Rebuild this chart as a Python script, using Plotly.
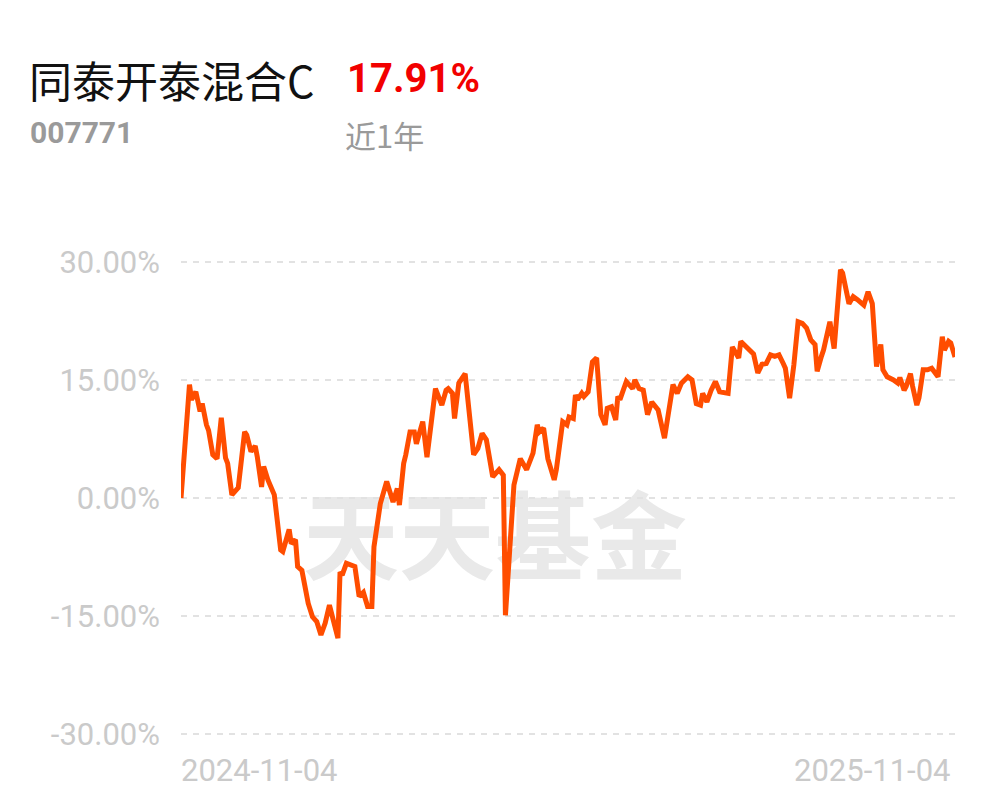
import pandas as pd
import plotly.graph_objects as go

# ---- data ----
start_date = "2024-11-04"
end_date = "2025-11-04"
day_offsets = [0, 2, 4, 5, 7, 9, 10, 12, 13, 15, 17, 19, 21, 22, 24, 27, 30, 31, 33, 35,
               36, 38, 39, 41, 44, 47, 48, 51, 52, 54, 55, 57, 60, 62, 64, 66, 68, 70, 72, 74,
               75, 76, 78, 82, 84, 86, 88, 90, 91, 94, 97, 100, 102, 103, 105, 106, 108, 110, 111, 114,
               116, 120, 123, 125, 126, 128, 129, 131, 134, 138, 140, 142, 144, 147, 150, 152, 153, 155, 157, 160,
               163, 166, 168, 169, 171, 173, 174, 176, 177, 180, 182, 183, 185, 186, 187, 189, 190, 192, 194, 196,
               198, 200, 201, 203, 205, 206, 207, 210, 213, 214, 216, 218, 220, 222, 225, 227, 228, 230, 232, 234,
               236, 239, 241, 243, 245, 246, 248, 250, 252, 254, 258, 260, 263, 264, 267, 268, 270, 272, 274, 276,
               278, 280, 282, 284, 285, 287, 289, 291, 293, 295, 297, 299, 300, 302, 303, 306, 308, 311, 312, 315,
               317, 319, 322, 324, 326, 328, 330, 331, 333, 336, 338, 339, 341, 342, 344, 345, 347, 348, 350, 352,
               354, 357, 359, 360, 362, 363, 365]
returns_pct = [0.0, 7.8, 14.4, 12.5, 13.5, 11.0, 12.0, 9.3, 8.6, 5.5, 5.0, 10.2, 5.1, 4.4, 0.4, 1.3, 8.4, 8.0, 5.9, 6.6,
               5.2, 1.4, 4.0, 2.3, 0.4, -6.6, -6.8, -4.0, -5.8, -5.3, -8.7, -9.2, -13.4, -15.1, -15.7, -17.4, -15.9, -13.6, -15.5, -17.8,
               -9.4, -9.8, -8.3, -8.7, -12.5, -12.0, -13.8, -13.8, -6.2, -0.7, 2.1, -0.5, 1.2, -0.9, 4.4, 5.5, 8.4, 8.4, 6.9, 9.7,
               5.2, 13.9, 11.8, 13.7, 13.9, 13.3, 10.1, 14.6, 15.8, 5.5, 6.3, 8.2, 7.4, 2.7, 3.6, 2.9, -14.9, -6.2, 1.65, 5.0,
               3.6, 5.7, 9.3, 8.4, 8.9, 5.0, 4.2, 2.3, 3.6, 9.7, 9.3, 10.3, 10.1, 13.1, 12.5, 13.3, 12.9, 13.5, 17.3, 17.8,
               10.6, 9.3, 11.4, 11.6, 9.9, 12.9, 12.5, 14.8, 13.9, 15.0, 13.9, 13.7, 10.6, 12.2, 11.2, 8.6, 7.6, 11.0, 14.4, 13.3,
               14.6, 15.4, 15.0, 12.0, 11.8, 13.3, 12.2, 13.7, 14.8, 13.5, 13.3, 19.2, 17.8, 19.9, 19.0, 18.8, 18.3, 15.9, 17.0, 17.1,
               18.2, 18.0, 18.2, 17.1, 16.5, 12.7, 16.9, 22.4, 22.2, 21.6, 20.1, 19.5, 16.1, 18.0, 18.8, 22.4, 19.0, 29.0, 28.6, 24.7,
               25.6, 25.2, 24.5, 26.2, 24.7, 16.7, 19.5, 16.3, 15.4, 15.0, 14.6, 15.3, 13.7, 14.2, 15.8, 14.2, 11.8, 12.7, 16.3, 16.3,
               16.5, 15.4, 20.5, 18.8, 19.9, 19.7, 17.91]
y_ticks = [-30, -15, 0, 15, 30]
y_tick_labels = ["-30.00%", "-15.00%", "0.00%", "15.00%", "30.00%"]
fund_name = "同泰开泰混合C"
fund_code = "007771"
period_return = "17.91%"
period_label = "近1年"
watermark = "天天基金"

dates = [pd.Timestamp(start_date) + pd.Timedelta(days=d) for d in day_offsets]

W, H = 997, 802
L, R, T, B = 181, 42, 258, 64
pw, ph = W - L - R, H - T - B


def px(x):
    return (x - L) / pw


def py(y):
    return 1 - (y - T) / ph


NUM_FONT = "Roboto, sans-serif"
CJK_FONT = "Noto Sans CJK SC, sans-serif"

fig = go.Figure()
fig.add_trace(go.Scatter(
    x=dates, y=returns_pct, mode="lines",
    line=dict(color="#FF4D00", width=5, shape="linear"),
    hoverinfo="skip", cliponaxis=False,
))

fig.update_layout(
    width=W, height=H,
    margin=dict(l=L, r=R, t=T, b=B, pad=0),
    paper_bgcolor="white", plot_bgcolor="white",
    showlegend=False,
    xaxis=dict(
        range=[pd.Timestamp(start_date), pd.Timestamp(end_date)],
        showgrid=False, zeroline=False, showline=False, showticklabels=False,
    ),
    yaxis=dict(
        range=[-30.5, 30.5], tickvals=y_ticks, ticktext=y_tick_labels,
        showgrid=True, gridcolor="#e2e2e2", gridwidth=2, griddash="6px,6px",
        zeroline=False, showline=False, ticks="", ticklabelstandoff=20,
        tickfont=dict(family=NUM_FONT, size=31, color="#cacaca"),
    ),
    shapes=[dict(
        type="rect", xref="paper", yref="paper",
        x0=px(300), x1=px(690), y0=py(593), y1=py(498),
        line=dict(width=0), fillcolor="rgba(0,0,0,0)", layer="below",
        label=dict(text=watermark, textposition="middle center",
                   font=dict(family=CJK_FONT, size=96, color="#e9e9e9", weight="bold")),
    )],
)

ann = [
    dict(text=fund_name, x=px(27), y=py(79), font=dict(family=CJK_FONT, size=43, color="#111111")),
    dict(text="<b>" + period_return + "</b>", x=px(345), y=py(79), font=dict(family=NUM_FONT, size=40, color="#F20000")),
    dict(text="<b>" + fund_code + "</b>", x=px(28), y=py(132), font=dict(family=NUM_FONT, size=30, color="#9a9a9a")),
    dict(text=period_label, x=px(343), y=py(134), font=dict(family=CJK_FONT, size=31, color="#9a9a9a")),
    dict(text=start_date, x=px(179), y=py(770), font=dict(family=NUM_FONT, size=31, color="#cacaca")),
    dict(text=end_date, x=px(953), y=py(770), xanchor="right", font=dict(family=NUM_FONT, size=31, color="#cacaca")),
]
for a in ann:
    a.setdefault("xanchor", "left")
    fig.add_annotation(xref="paper", yref="paper", yanchor="middle", showarrow=False, **a)

fig.write_html("out.html", config={"displayModeBar": False},
               post_script="document.body.style.margin='0';")
